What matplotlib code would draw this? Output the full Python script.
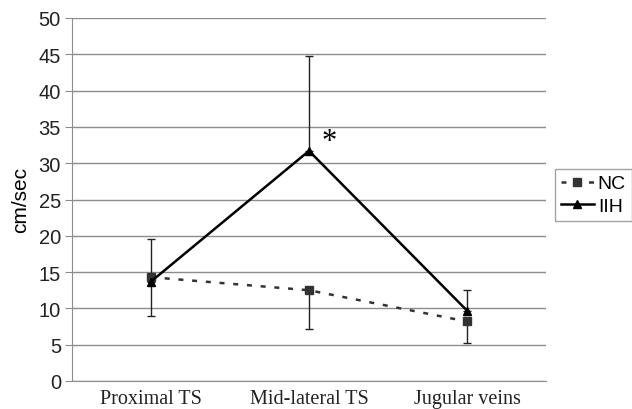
import numpy as np
import matplotlib.pyplot as plt

# data
categories = ["Proximal TS", "Mid-lateral TS", "Jugular veins"]
nc_mean = [14.3, 12.5, 8.2]
nc_err_low = [5.4, 5.3, 2.9]
iih_mean = [13.7, 31.7, 9.7]
iih_err_up = [5.9, 13.0, 2.8]
yticks = list(range(0, 55, 5))

fig = plt.figure(figsize=(6.32, 4.10), dpi=100)
ax = fig.add_axes([72/632, 28/410, 474/632, 363/410])

x = np.arange(len(categories)) + 0.5

# gridlines
for t in yticks:
    ax.axhline(t, color="#8c8c8c", lw=1.0, zorder=0)

# error bars (one-sided, Excel style)
ax.errorbar(x, nc_mean, yerr=[nc_err_low, [0]*3], fmt="none", ecolor="#222222",
            elinewidth=1.0, capsize=3, capthick=1.0, zorder=2)
ax.errorbar(x, iih_mean, yerr=[[0]*3, iih_err_up], fmt="none", ecolor="#222222",
            elinewidth=1.0, capsize=3, capthick=1.0, zorder=2)

l1, = ax.plot(x, nc_mean, ls=(0, (2, 3.5)), color="#333333", lw=1.8, marker="s",
              ms=6, mfc="#333333", mec="#333333", label="NC", zorder=3)
l2, = ax.plot(x, iih_mean, ls="-", color="black", lw=1.8, marker="^",
              ms=6, mfc="black", mec="black", label="IIH", zorder=4)

ax.text(1.63, 33.0, "*", fontsize=22, family="Liberation Serif", ha="center", va="center")

ax.set_xlim(0, 3)
ax.set_ylim(0, 50)
ax.set_yticks(yticks)
ax.set_yticklabels([str(t) for t in yticks], family="Liberation Sans", fontsize=14.5, color="#222222")
ax.set_xticks(x)
ax.set_xticklabels(categories, family="Liberation Serif", fontsize=14.5, color="#222222")
ax.tick_params(axis="x", length=0, pad=6)
ax.tick_params(axis="y", length=5, color="#8c8c8c", pad=3)
for s in ["top", "right"]:
    ax.spines[s].set_visible(False)
ax.spines["left"].set_color("#8c8c8c")
ax.spines["bottom"].set_color("#8c8c8c")
ax.set_ylabel("cm/sec", family="Liberation Sans", fontsize=15, labelpad=6)

leg = fig.legend(handles=[l1, l2], loc="upper left", bbox_to_anchor=(555/632, 1 - 170/410),
                 prop={"family": "Liberation Sans", "size": 14}, frameon=True,
                 fancybox=False, edgecolor="#8c8c8c", handlelength=1.7,
                 handletextpad=0.2, borderpad=0.3, labelspacing=0.25, borderaxespad=0)
leg.get_frame().set_linewidth(1.0)

fig.savefig("out.png", dpi=100)
